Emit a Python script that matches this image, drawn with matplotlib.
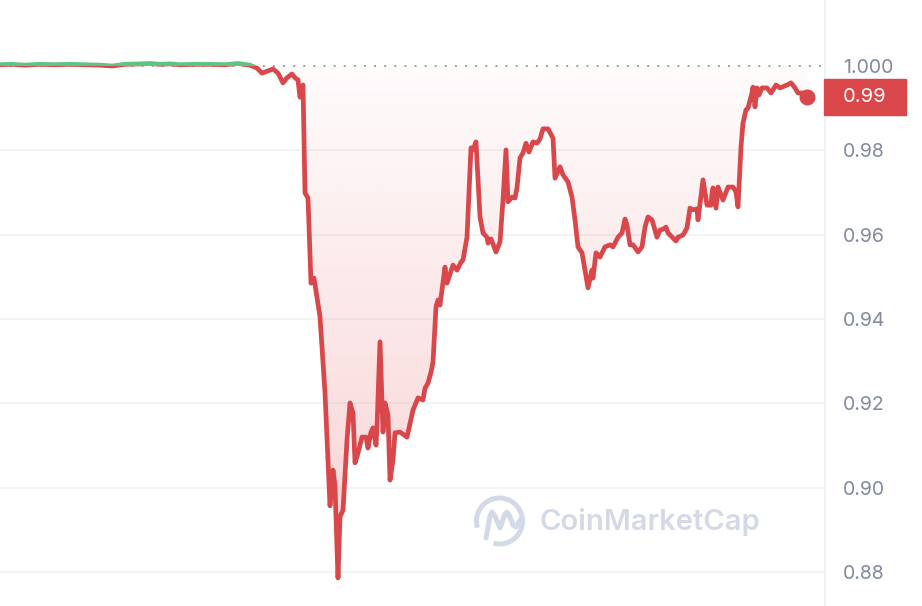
import numpy as np
import matplotlib
matplotlib.use('Agg')
import matplotlib.pyplot as plt
from matplotlib.patches import Rectangle, Arc
from matplotlib.colors import to_rgb
from matplotlib.transforms import blended_transform_factory

plt.rcParams['font.family'] = ['Inter', 'DejaVu Sans']

# ── data: price vs. time step ────────────────────────────────────────────────
t = [0, 12, 25, 40, 55, 70, 85, 100, 112, 125, 140, 150, 160, 170, 180, 195,
     210, 225, 238, 250, 257, 262, 273, 278, 283, 287, 292, 295, 298, 300,
     303, 305, 308, 311, 314, 320, 325, 330, 333, 335, 338, 340, 343, 347,
     350, 353, 355, 358, 362, 366, 368, 371, 373, 376, 377, 380, 383, 385,
     388, 390, 393, 395, 400, 407, 413, 418, 423, 425, 428, 431, 433, 436,
     438, 440, 445, 447, 453, 457, 461, 463, 467, 471, 473, 476, 480, 483,
     487, 488, 491, 496, 500, 503, 506, 508, 512, 515, 517, 520, 523, 526,
     529, 533, 537, 540, 543, 548, 553, 555, 560, 563, 568, 572, 575, 578,
     582, 588, 592, 593, 596, 600, 605, 610, 613, 618, 622, 625, 627, 630,
     633, 638, 642, 645, 648, 652, 657, 660, 663, 666, 668, 673, 676, 678,
     683, 687, 690, 693, 697, 698, 703, 707, 711, 712, 713, 716, 718, 723,
     728, 733, 736, 738, 741, 743, 746, 748, 752, 753, 755, 757, 759, 762,
     767, 771, 776, 780, 787, 791, 795, 798, 803, 807]
price = [1.0003, 1.0004, 1.0002, 1.0004, 1.0003, 1.0004, 1.0003, 1.0002,
         1.0000, 1.0004, 1.0005, 1.0006, 1.0004, 1.0005, 1.0003, 1.0004,
         1.0004, 1.0003, 1.0006, 1.0002, 0.9995, 0.9983, 0.9993, 0.9983,
         0.9960, 0.9972, 0.9981, 0.9972, 0.9967, 0.9926, 0.9955, 0.9699,
         0.9687, 0.9485, 0.9497, 0.9405, 0.9225, 0.8957, 0.9042, 0.9004,
         0.8786, 0.8931, 0.8947, 0.9113, 0.9201, 0.9177, 0.9059, 0.9082,
         0.9120, 0.9120, 0.9094, 0.9132, 0.9142, 0.9101, 0.9144, 0.9346,
         0.9132, 0.9201, 0.9172, 0.9018, 0.9066, 0.9130, 0.9132, 0.9120,
         0.9184, 0.9213, 0.9208, 0.9236, 0.9248, 0.9274, 0.9298, 0.9429,
         0.9445, 0.9433, 0.9523, 0.9485, 0.9528, 0.9516, 0.9535, 0.9540,
         0.9594, 0.9806, 0.9801, 0.9820, 0.9642, 0.9604, 0.9594, 0.9580,
         0.9590, 0.9559, 0.9583, 0.9682, 0.9801, 0.9678, 0.9689, 0.9687,
         0.9711, 0.9782, 0.9794, 0.9817, 0.9796, 0.9820, 0.9817, 0.9827,
         0.9851, 0.9851, 0.9829, 0.9734, 0.9761, 0.9742, 0.9725, 0.9689,
         0.9635, 0.9571, 0.9557, 0.9474, 0.9516, 0.9497, 0.9557, 0.9547,
         0.9571, 0.9576, 0.9571, 0.9594, 0.9604, 0.9637, 0.9623, 0.9576,
         0.9576, 0.9559, 0.9571, 0.9618, 0.9642, 0.9635, 0.9594, 0.9611,
         0.9613, 0.9618, 0.9604, 0.9592, 0.9585, 0.9594, 0.9599, 0.9616,
         0.9663, 0.9659, 0.9661, 0.9635, 0.9730, 0.9670, 0.9670, 0.9699,
         0.9711, 0.9663, 0.9713, 0.9682, 0.9713, 0.9713, 0.9701, 0.9666,
         0.9808, 0.9865, 0.9896, 0.9900, 0.9936, 0.9950, 0.9903, 0.9948,
         0.9931, 0.9948, 0.9948, 0.9936, 0.9955, 0.9948, 0.9955, 0.9960,
         0.9948, 0.9936, 0.9936, 0.9926]
baseline = 1.0
yticks = [0.88, 0.90, 0.92, 0.94, 0.96, 0.98, 1.000]
ytick_labels = ['0.88', '0.90', '0.92', '0.94', '0.96', '0.98', '1.000']

RED = '#d9474b'
GREEN = '#5cc584'
GRID = '#f1f2f4'
TICK = '#808a9d'
WATER = '#d3d9e6'

W, H = 922, 606
fig = plt.figure(figsize=(W / 100, H / 100), dpi=100)
ax = fig.add_axes([0, 0, 825 / W, 1])
XMAX = 825
YMIN, YMAX = 0.87195, 1.01565

# grid + baseline
for yv in yticks[:-1]:
    ax.axhline(yv, color=GRID, lw=1.2, zorder=0)
ax.axhline(baseline, color='#9aa1ad', lw=1.4, dashes=(1, 4.2), zorder=0.5)

# gradient fill between price and baseline
fill = ax.fill_between(t, price, baseline, color='none', lw=0)
grad = np.linspace(0, 1, 256)
rgba = np.zeros((256, 1, 4))
rgba[..., :3] = to_rgb('#e5484f')
rgba[:, 0, 3] = 0.02 + grad * 0.24
img = ax.imshow(rgba, extent=[0, XMAX, YMIN, baseline], origin='upper',
                aspect='auto', zorder=1, interpolation='bilinear')
img.set_clip_path(fill.get_paths()[0], transform=ax.transData)

# price line: green above baseline, red below
LW = 3.4
clip_hi = Rectangle((0, baseline), XMAX, 0.1, transform=ax.transData)
clip_lo = Rectangle((0, baseline - 0.3), XMAX, 0.3, transform=ax.transData)
l_red, = ax.plot(t, price, color=RED, lw=LW, solid_joinstyle='round', zorder=3)
l_red.set_clip_path(clip_lo)
l_grn, = ax.plot(t, price, color=GREEN, lw=LW, solid_joinstyle='round', zorder=3)
l_grn.set_clip_path(clip_hi)
ax.plot(t[-1], price[-1], 'o', ms=10.5, color=RED, zorder=4, clip_on=False)

ax.set_xlim(0, XMAX)
ax.set_ylim(YMIN, YMAX)

# axes styling
for s in ['top', 'left', 'bottom']:
    ax.spines[s].set_visible(False)
ax.spines['right'].set_color('#eef0f3')
ax.spines['right'].set_linewidth(1.2)
ax.set_xticks([])
ax.yaxis.tick_right()
ax.set_yticks(yticks, ytick_labels)
ax.tick_params(axis='y', length=0, pad=13, labelsize=14, labelcolor=TICK)

# current price tag
trans = blended_transform_factory(fig.transFigure, ax.transData)
box_h = 36 / H * (YMAX - YMIN)
tag = Rectangle((824 / W, price[-1] - box_h / 2), 82 / W, box_h,
                transform=trans, color=RED, clip_on=False, zorder=5)
fig.add_artist(tag)
fig.text(843 / W, price[-1], f'{price[-1]:.2f}', transform=trans,
         color='white', fontsize=14.5, ha='left', va='center', zorder=6)


# watermark
def px(x, y):
    return x / W, 1 - y / H


cx, cy, r = 499.5, 521, 23
ring = Arc(px(cx, cy), 2 * r / W, 2 * r / H, theta1=-100, theta2=205,
           transform=fig.transFigure, color=WATER, lw=3.6)
fig.add_artist(ring)
wave = [(486, 538), (490, 516), (492, 512), (495, 516), (500, 528),
        (505, 514), (507, 512), (510, 517), (513, 525), (516, 527), (521, 519)]
wx, wy = zip(*[px(a, b) for a, b in wave])
fig.add_artist(plt.Line2D(wx, wy, transform=fig.transFigure, color=WATER,
                          lw=3.6, solid_capstyle='round', solid_joinstyle='round'))
fig.text(*px(539, 522), 'CoinMarketCap', color=WATER, fontsize=21,
         fontweight='semibold', ha='left', va='center')

fig.savefig('out.png', dpi=100)
